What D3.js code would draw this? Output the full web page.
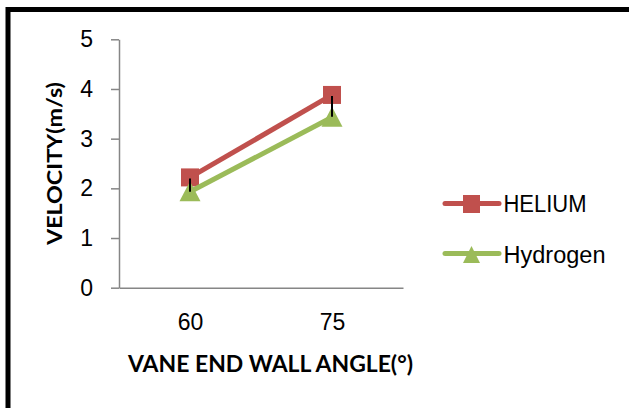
<!DOCTYPE html>
<html>
<head>
<meta charset="utf-8">
<script src="https://cdn.jsdelivr.net/npm/d3@7"></script>
<style>
  body { margin: 0; background: #fff; }
  svg { display: block; }
  .tick text { font-family: "Liberation Sans", Arial, sans-serif; font-size: 23px; fill: #000; }
</style>
</head>
<body>
<div class="visHolder"></div>
<script>
var categories = ["60", "75"];
var helium = [2.22, 3.88];
var hydrogen = [1.93, 3.43];
var heliumErrMinus = [0.29, 0.44];
var yTicks = [0, 1, 2, 3, 4, 5];
var seriesNames = ["HELIUM", "Hydrogen"];

var width = 629,
  height = 408;

var red = "#C0504D",
  green = "#9BBB59",
  axisGray = "#868686";

var svg = d3.select(".visHolder").append("svg").attr("width", width).attr("height", height);

// outer frame (runs off the right and bottom edges)
svg.append("rect")
  .attr("x", 8)
  .attr("y", 9.5)
  .attr("width", 700)
  .attr("height", 500)
  .attr("fill", "none")
  .attr("stroke", "#000")
  .attr("stroke-width", 5);

var xScale = d3.scalePoint().domain(categories).range([119, 403]).padding(0.5);
var yScale = d3.scaleLinear().domain([0, 5]).range([287.7, 39.3]);

var yAxis = d3.axisLeft(yScale).tickValues(yTicks).tickSize(8).tickSizeOuter(0).tickPadding(18).tickFormat(d3.format("d"));
var gy = svg.append("g").attr("transform", "translate(119,0)").call(yAxis);
gy.select(".domain").attr("stroke", axisGray).attr("stroke-width", 1.5);
gy.selectAll(".tick line").attr("stroke", axisGray).attr("stroke-width", 1.5);

var xAxis = d3.axisBottom(xScale).tickSize(0).tickSizeOuter(0).tickPadding(26);
var gx = svg.append("g").attr("transform", "translate(0," + yScale(0) + ")").call(xAxis);
gx.select(".domain").attr("stroke", axisGray).attr("stroke-width", 1.5);

// axis titles
svg.append("text")
  .attr("x", 270.5)
  .attr("y", 371.5)
  .attr("text-anchor", "middle")
  .attr("textLength", 285)
  .attr("lengthAdjust", "spacingAndGlyphs")
  .style("font-family", "Lato, 'Open Sans', sans-serif")
  .style("font-weight", "bold")
  .style("font-size", "23px")
  .text("VANE END WALL ANGLE(°)");

svg.append("text")
  .attr("transform", "translate(61.5,163.5) rotate(-90)")
  .attr("text-anchor", "middle")
  .attr("textLength", 163)
  .attr("lengthAdjust", "spacingAndGlyphs")
  .style("font-family", "Lato, 'Open Sans', sans-serif")
  .style("font-weight", "bold")
  .style("font-size", "21px")
  .text("VELOCITY(m/s)");

var line = d3.line()
  .x(function (d, i) { return xScale(categories[i]); })
  .y(function (d) { return yScale(d); });

var triangle = "M0,-10.5L10.5,9.5L-10.5,9.5Z";
var smallTriangle = "M0,-9L8.5,8L-8.5,8Z";

// helium
svg.append("path").datum(helium)
  .attr("d", line)
  .attr("fill", "none")
  .attr("stroke", red)
  .attr("stroke-width", 5);
svg.selectAll(".sq")
  .data(helium)
  .enter()
  .append("rect")
  .attr("class", "sq")
  .attr("x", function (d, i) { return xScale(categories[i]) - 9; })
  .attr("y", function (d) { return yScale(d) - 9; })
  .attr("width", 18)
  .attr("height", 18)
  .attr("fill", red);

// hydrogen
svg.append("path").datum(hydrogen)
  .attr("d", line)
  .attr("fill", "none")
  .attr("stroke", green)
  .attr("stroke-width", 5);
svg.selectAll(".tri")
  .data(hydrogen)
  .enter()
  .append("path")
  .attr("class", "tri")
  .attr("d", triangle)
  .attr("transform", function (d, i) { return "translate(" + xScale(categories[i]) + "," + yScale(d) + ")"; })
  .attr("fill", green);

// error bars on helium (minus only)
svg.selectAll(".err")
  .data(helium)
  .enter()
  .append("line")
  .attr("class", "err")
  .attr("x1", function (d, i) { return xScale(categories[i]); })
  .attr("x2", function (d, i) { return xScale(categories[i]); })
  .attr("y1", function (d) { return yScale(d) + 1; })
  .attr("y2", function (d, i) { return yScale(d - heliumErrMinus[i]); })
  .attr("stroke", "#000")
  .attr("stroke-width", 2);

// legend
var legendY = [203.5, 253.5];
var legend = svg.selectAll(".legend")
  .data(seriesNames)
  .enter()
  .append("g")
  .attr("class", "legend")
  .attr("transform", function (d, i) { return "translate(0," + legendY[i] + ")"; });

legend.append("line")
  .attr("x1", 445)
  .attr("x2", 499)
  .attr("stroke", function (d, i) { return i === 0 ? red : green; })
  .attr("stroke-width", 5)
  .attr("stroke-linecap", "round");

legend.filter(function (d, i) { return i === 0; })
  .append("rect")
  .attr("x", 463)
  .attr("y", -8.5)
  .attr("width", 17)
  .attr("height", 18)
  .attr("fill", red);

legend.filter(function (d, i) { return i === 1; })
  .append("path")
  .attr("d", smallTriangle)
  .attr("transform", "translate(471.5,1.5)")
  .attr("fill", green);

legend.append("text")
  .attr("x", 503.5)
  .attr("y", function (d, i) { return i === 0 ? 8.2 : 9.2; })
  .attr("textLength", function (d, i) { return i === 0 ? 83 : 102; })
  .attr("lengthAdjust", "spacingAndGlyphs")
  .style("font-family", "'Liberation Sans', Arial, sans-serif")
  .style("font-size", "23px")
  .text(function (d) { return d; });
</script>
</body>
</html>
